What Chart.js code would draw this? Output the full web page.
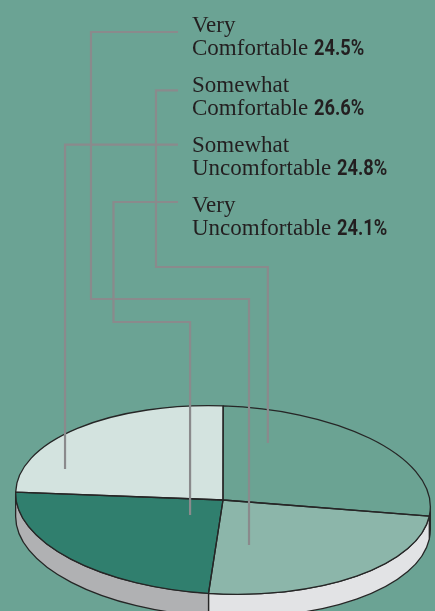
<!DOCTYPE html>
<html>
<head>
<meta charset="utf-8">
<script src="https://cdn.jsdelivr.net/npm/chart.js@4.4.1/dist/chart.umd.min.js"></script>
<style>
  html, body { margin: 0; padding: 0; background: #6ba394; overflow: hidden; }
  #wrap { position: relative; width: 435px; height: 611px; overflow: hidden; background: #6ba394; }
  #pie { position: absolute; left: 0; top: 0; }
  .label {
    position: absolute; left: 192px;
    font-family: 'Liberation Serif', serif; font-size: 23px; line-height: 23px;
    color: #231f20; white-space: nowrap;
  }
  .label b {
    display: inline-block; transform: scaleX(0.83); transform-origin: 0 0;
    font-family: 'Roboto', sans-serif; font-weight: bold; font-size: 22px;
  }
</style>
</head>
<body>
<div id="wrap">
  <canvas id="pie" width="435" height="720"></canvas>
</div>
<script>
// slices go clockwise from 12 o'clock
const categories = [
  ['Somewhat', 'Comfortable'],
  ['Very', 'Comfortable'],
  ['Very', 'Uncomfortable'],
  ['Somewhat', 'Uncomfortable']
];
const shares = [26.6, 24.5, 24.1, 24.8];
// order the labels are stacked in, top to bottom
const labelOrder = [1, 0, 3, 2];

const sliceColors = ['#6ba393', '#8cb6aa', '#307f6e', '#d3e3df'];
const sideColors = ['#cbccce', '#e2e3e5', '#b0b1b3', '#c6c7c9'];

// how the disc is laid over: vertical squash, slight clockwise tilt, wall height
const squash = 0.453;
const tilt = 2.3 * Math.PI / 180;
const depth = 23;

// leader routes in label order; t/r place the end inside its slice
const leaders = [
  { y: 32, elbowX: 91, elbowY: 299, t: 0.785, r: 0.486 },
  { y: 90.3, elbowX: 156, elbowY: 267, t: 0.20, r: 0.658 },
  { y: 144.7, elbowX: null, elbowY: null, t: 0.214, r: 0.81 },
  { y: 202, elbowX: 113.5, elbowY: 322, t: 0.449, r: 0.233 }
];
const leaderStartX = 178;

function discPoint(cx, cy, ang, rad) {
  const px = rad * Math.cos(ang), py = squash * rad * Math.sin(ang);
  return {
    x: cx + px * Math.cos(tilt) - py * Math.sin(tilt),
    y: cy + px * Math.sin(tilt) + py * Math.cos(tilt)
  };
}

const discPlugin = {
  id: 'disc',
  beforeDatasetsDraw(chart) {
    const ctx = chart.ctx;
    const arcs = chart.getDatasetMeta(0).data;
    const { x, y, outerRadius: R } = arcs[0];
    const ry = R * squash;
    // the front wall shows between the two horizontal extremes
    const front0 = -Math.atan(squash * Math.tan(tilt));
    const front1 = front0 + Math.PI;

    ctx.save();
    ctx.strokeStyle = '#262626';
    ctx.lineWidth = 1.3;
    ctx.lineJoin = 'round';
    arcs.forEach((arc, i) => {
      const lo = Math.max(arc.startAngle, front0);
      const hi = Math.min(arc.endAngle, front1);
      if (hi <= lo) return;
      ctx.beginPath();
      ctx.ellipse(x, y, R, ry, tilt, lo, hi);
      ctx.ellipse(x, y + depth, R, ry, tilt, hi, lo, true);
      ctx.closePath();
      ctx.fillStyle = sideColors[i];
      ctx.fill();
      ctx.stroke();
    });
    ctx.restore();

    // squash the round pie into the tilted disc while the arcs draw
    ctx.save();
    ctx.translate(x, y);
    ctx.rotate(tilt);
    ctx.scale(1, squash);
    ctx.translate(-x, -y);
  },
  afterDatasetsDraw(chart) {
    const ctx = chart.ctx;
    ctx.restore();

    const arcs = chart.getDatasetMeta(0).data;
    const { x, y, outerRadius: R } = arcs[0];
    const ry = R * squash;

    ctx.save();
    ctx.strokeStyle = '#262626';
    ctx.lineWidth = 1.3;
    ctx.lineJoin = 'round';
    arcs.forEach(arc => {
      ctx.beginPath();
      ctx.moveTo(x, y);
      ctx.ellipse(x, y, R, ry, tilt, arc.startAngle, arc.endAngle);
      ctx.closePath();
      ctx.stroke();
    });

    // leader lines from the labels down into the slices
    ctx.strokeStyle = '#8a8a8c';
    ctx.lineWidth = 2.2;
    ctx.lineJoin = 'miter';
    leaders.forEach((ld, n) => {
      const arc = arcs[labelOrder[n]];
      const ang = arc.startAngle + ld.t * (arc.endAngle - arc.startAngle);
      const end = discPoint(x, y, ang, ld.r * R);
      ctx.beginPath();
      ctx.moveTo(leaderStartX, ld.y);
      if (ld.elbowX !== null) {
        ctx.lineTo(ld.elbowX, ld.y);
        ctx.lineTo(ld.elbowX, ld.elbowY);
        ctx.lineTo(end.x, ld.elbowY);
      } else {
        ctx.lineTo(end.x, ld.y);
      }
      ctx.lineTo(end.x, end.y);
      ctx.stroke();
    });
    ctx.restore();
  }
};

new Chart(document.getElementById('pie'), {
  type: 'pie',
  data: {
    labels: categories,
    datasets: [{
      data: shares,
      backgroundColor: sliceColors,
      borderWidth: 0,
      hoverBorderWidth: 0,
      hoverOffset: 0,
      clip: false
    }]
  },
  options: {
    responsive: false,
    animation: false,
    events: [],
    rotation: -1,
    layout: { padding: { left: 15.5, right: 4.5, top: 292.5, bottom: 12.5 } },
    plugins: { legend: { display: false }, tooltip: { enabled: false } }
  },
  plugins: [discPlugin]
});

// labels stacked on the upper right
const wrap = document.getElementById('wrap');
labelOrder.forEach((idx, n) => {
  const div = document.createElement('div');
  div.className = 'label';
  div.style.top = (12.5 + n * 60) + 'px';
  div.innerHTML = categories[idx][0] + '<br>' + categories[idx][1] +
    ' <b>' + shares[idx].toFixed(1) + '%</b>';
  wrap.appendChild(div);
});
</script>
</body>
</html>
